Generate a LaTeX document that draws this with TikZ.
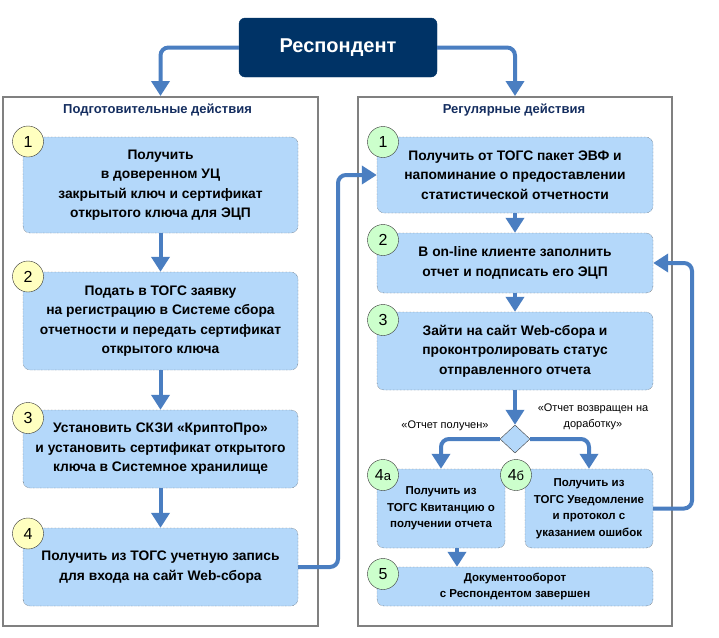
\documentclass[tikz,border=0pt]{standalone}
\usepackage{fontspec}
\setmainfont{Liberation Sans}
\usetikzlibrary{arrows.meta,shapes.geometric}
\definecolor{navy}{RGB}{0,51,102}
\definecolor{titleblue}{RGB}{20,45,95}
\definecolor{flow}{RGB}{74,126,193}
\definecolor{boxfill}{RGB}{180,216,250}
\definecolor{numyellow}{RGB}{255,255,192}
\definecolor{numgreen}{RGB}{204,255,204}
\definecolor{panelgray}{RGB}{128,128,128}

\begin{document}
\begin{tikzpicture}[x=1pt,y=-1pt]
\tikzstyle{panel} = [draw=panelgray,line width=2pt,inner sep=0pt]
\tikzstyle{ptitle} = [text=titleblue,font=\bfseries\fontsize{13}{15}\selectfont]
\tikzstyle{stepbox} = [draw=black!80,densely dotted,fill=boxfill,rounded corners=7pt,inner sep=0pt,align=center,font=\bfseries\fontsize{13.8}{19.5}\selectfont]
\tikzstyle{smallbox} = [stepbox,font=\bfseries\fontsize{11.5}{16.5}\selectfont]
\tikzstyle{num} = [draw=black!80,circle,minimum size=31pt,inner sep=0pt,font=\fontsize{16}{16}\selectfont]
\tikzstyle{flowline} = [draw=flow,line width=4pt,rounded corners=8pt,-{Triangle[width=18pt,length=15pt]}]
\tikzstyle{decision} = [shape=diamond,draw=black!75,fill=boxfill,minimum width=30pt,minimum height=28pt,inner sep=0pt]
\tikzstyle{note} = [align=center,font=\fontsize{11}{16}\selectfont]

\useasboundingbox (0,0) rectangle (719,637);

\node[draw=navy,fill=navy,rounded corners=6pt,minimum width=198pt,minimum height=59pt,text=white,font=\bfseries\fontsize{20}{24}\selectfont] (resp) at (338,47.5) {Респондент};

\node[panel,minimum width=315pt,minimum height=529pt] (lpanel) at (160.5,361.5) {};
\node[panel,minimum width=314pt,minimum height=529pt] (rpanel) at (515,361.5) {};
\node[ptitle] (ltitle) at (157.5,110) {Подготовительные действия};
\node[ptitle] (rtitle) at (514,110) {Регулярные действия};

% left column
\node[stepbox,minimum width=275pt,minimum height=96pt] (l1) at (160.5,185) {Получить\\в доверенном УЦ\\закрытый ключ и сертификат\\открытого ключа для ЭЦП};
\node[stepbox,minimum width=275pt,minimum height=98pt] (l2) at (160.5,321) {Подать в ТОГС заявку\\на регистрацию в Системе сбора\\отчетности и передать сертификат\\открытого ключа};
\node[stepbox,minimum width=275pt,minimum height=78pt] (l3) at (160.5,449) {Установить СКЗИ «КриптоПро»\\и установить сертификат открытого\\ключа в Системное хранилище};
\node[stepbox,minimum width=275pt,minimum height=78pt] (l4) at (160.5,567) {Получить из ТОГС учетную запись\\для входа на сайт Web-сбора};

\node[num,fill=numyellow] (nl1) at (28,141.5) {1};
\node[num,fill=numyellow] (nl2) at (28,276.5) {2};
\node[num,fill=numyellow] (nl3) at (28,418) {3};
\node[num,fill=numyellow] (nl4) at (28,533.5) {4};

% right column
\node[stepbox,minimum width=276pt,minimum height=76pt] (r1) at (515,175) {Получить от ТОГС пакет ЭВФ и\\напоминание о предоставлении\\статистической отчетности};
\node[stepbox,minimum width=276pt,minimum height=60pt] (r2) at (515,263) {В on-line клиенте заполнить\\отчет и подписать его ЭЦП};
\node[stepbox,minimum width=276pt,minimum height=78pt] (r3) at (515,351) {Зайти на сайт Web-сбора и\\проконтролировать статус\\отправленного отчета};
\node[decision] (dia) at (515,439) {};
\node[smallbox,minimum width=128pt,minimum height=79pt] (r4a) at (441,508.5) {Получить из\\ТОГС Квитанцию о\\получении отчета};
\node[smallbox,minimum width=128pt,minimum height=79pt] (r4b) at (589,508.5) {Получить из\\ТОГС Уведомление\\и протокол с\\указанием ошибок};
\node[smallbox,minimum width=276pt,minimum height=39pt] (r5) at (515,586.5) {Документооборот\\с Респондентом завершен};

\node[num,fill=numgreen] (nr1) at (383,142) {1};
\node[num,fill=numgreen] (nr2) at (383,240) {2};
\node[num,fill=numgreen] (nr3) at (383,320) {3};
\node[num,fill=numgreen] (nr4a) at (383,475) {4{\fontsize{13}{13}\selectfont а}};
\node[num,fill=numgreen] (nr4b) at (516,475) {4{\fontsize{13}{13}\selectfont б}};
\node[num,fill=numgreen] (nr5) at (383,574) {5};

\node[note] (lbl1) at (445,426) {«Отчет получен»};
\node[note] (lbl2) at (593,417) {«Отчет возвращен на\\доработку»};

\coordinate (bend1) at (338,0);
\coordinate (bend2) at (692,0);

\draw[flowline] (resp.west) -| (lpanel.north);
\draw[flowline] (resp.east) -| (rpanel.north);
\draw[flowline] (l1.south) -- (l2.north);
\draw[flowline] (l2.south) -- (l3.north);
\draw[flowline] (l3.south) -- (l4.north);
\draw[flowline] (l4.east) -- (l4.east -| bend1) |- (r1.west);
\draw[flowline] (r1.south) -- (r2.north);
\draw[flowline] (r2.south) -- (r3.north);
\draw[flowline] (r3.south) -- (dia.north);
\draw[flowline] (dia.west) -| (r4a.north);
\draw[flowline] (dia.east) -| (r4b.north);
\draw[flowline] ([xshift=16pt]r4a.south) -- ([xshift=16pt]r4a.south |- r5.north);
\draw[flowline] (r4b.east) -- (r4b.east -| bend2) |- (r2.east);

\end{tikzpicture}
\end{document}
